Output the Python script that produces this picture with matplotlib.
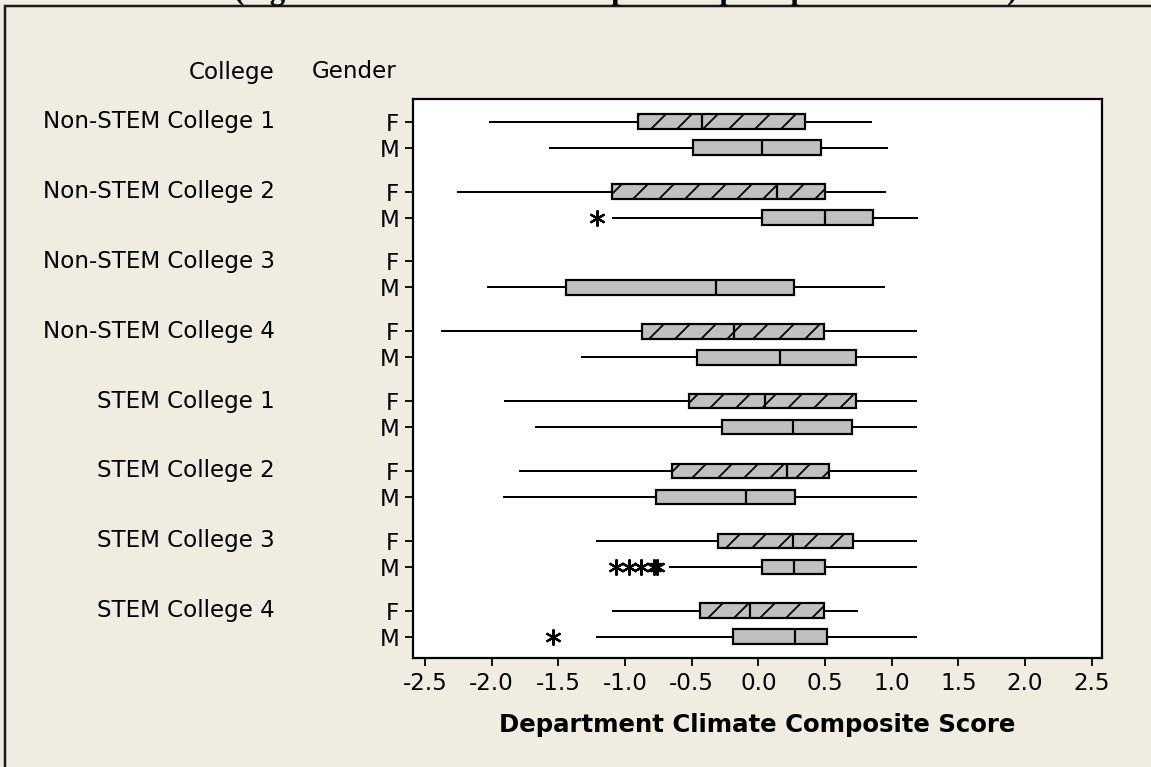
import numpy as np
import matplotlib
matplotlib.use("Agg")
import matplotlib.pyplot as plt
from matplotlib.patches import Rectangle
from matplotlib.transforms import blended_transform_factory

# data (box plot summaries)
colleges = ['Non-STEM College 1', 'Non-STEM College 2', 'Non-STEM College 3', 'Non-STEM College 4',
            'STEM College 1', 'STEM College 2', 'STEM College 3', 'STEM College 4']
genders = ['F', 'M']

# whisker low, Q1, median, Q3, whisker high  (None = no data)
f_whislo = [-2.01, -2.25, None, -2.37, -1.90, -1.79, -1.21, -1.09]
f_q1 = [-0.90, -1.10, None, -0.87, -0.52, -0.645, -0.30, -0.44]
f_med = [-0.42, 0.14, None, -0.18, 0.05, 0.215, 0.26, -0.06]
f_q3 = [0.35, 0.50, None, 0.49, 0.73, 0.53, 0.71, 0.49]
f_whishi = [0.845, 0.95, None, 1.18, 1.18, 1.18, 1.18, 0.74]
f_fliers = [[], [], [], [], [], [], [], []]

m_whislo = [-1.56, -1.09, -2.03, -1.32, -1.67, -1.91, -0.66, -1.21]
m_q1 = [-0.49, 0.03, -1.44, -0.46, -0.27, -0.765, 0.03, -0.19]
m_med = [0.03, 0.50, -0.32, 0.16, 0.26, -0.09, 0.27, 0.275]
m_q3 = [0.47, 0.86, 0.27, 0.73, 0.70, 0.275, 0.50, 0.515]
m_whishi = [0.965, 1.19, 0.94, 1.18, 1.18, 1.18, 1.18, 1.18]
m_fliers = [[], [-1.21], [], [], [], [], [-1.07, -0.97, -0.88, -0.78, -0.76], [-1.54]]

x_ticks = [-2.5, -2.0, -1.5, -1.0, -0.5, 0.0, 0.5, 1.0, 1.5, 2.0, 2.5]

DPI = 156
W, H = 1151, 767
BG = '#F0ECE2'


def pt(px):
    return px * 72.0 / DPI


plt.rcParams['axes.unicode_minus'] = False
plt.rcParams['font.family'] = ['DejaVu Sans']
plt.rcParams['hatch.linewidth'] = pt(1.8)
FS = pt(23)

fig = plt.figure(figsize=(W / DPI, H / DPI), dpi=DPI, facecolor=BG)
ax = fig.add_axes([413 / W, 1 - 658 / H, (1101.7 - 413) / W, (658 - 99.3) / H])
ax.set_facecolor('white')

GROUP_STEP = 2.687
stats, positions, hatched = [], [], []
tick_pos, tick_lab = [], []
all_f = zip(f_whislo, f_q1, f_med, f_q3, f_whishi, f_fliers)
all_m = zip(m_whislo, m_q1, m_med, m_q3, m_whishi, m_fliers)
for g, (fs, ms) in enumerate(zip(all_f, all_m)):
    for k, s in enumerate((fs, ms)):
        pos = g * GROUP_STEP + k
        tick_pos.append(pos)
        tick_lab.append(genders[k])
        if s[0] is None:
            continue
        stats.append(dict(whislo=s[0], q1=s[1], med=s[2], q3=s[3], whishi=s[4], fliers=s[5]))
        positions.append(pos)
        hatched.append(k == 0)

res = ax.bxp(stats, positions=positions, widths=0.56, orientation='horizontal',
             patch_artist=True, showcaps=False,
             boxprops=dict(facecolor='#C0C0C0', edgecolor='black', linewidth=pt(2.2)),
             medianprops=dict(color='black', linewidth=pt(2.2)),
             whiskerprops=dict(color='black', linewidth=pt(2)),
             flierprops=dict(marker=(6, 2, 0), markersize=pt(16), markeredgecolor='black',
                             markeredgewidth=pt(2.2), linestyle='none'))
for box, h in zip(res['boxes'], hatched):
    if h:
        box.set_hatch('//')

ax.set_xlim(-2.59, 2.575)
ax.set_ylim(7 * GROUP_STEP + 1 + 0.82, -0.862)
ax.set_xticks(x_ticks, ['%.1f' % v for v in x_ticks], fontsize=FS)
ax.set_yticks(tick_pos, tick_lab, fontsize=FS)
ax.tick_params(length=pt(8), width=pt(1.8), pad=pt(6), color='black')
for sp in ax.spines.values():
    sp.set_linewidth(pt(2.2))

trans = blended_transform_factory(fig.transFigure, ax.transData)
for g, name in enumerate(colleges):
    ax.text(275 / W, g * GROUP_STEP, name, transform=trans, ha='right', va='center',
            fontsize=FS, clip_on=False)

fig.text(275 / W, 1 - 72 / H, 'College', ha='right', va='center', fontsize=FS)
fig.text(397 / W, 1 - 72 / H, 'Gender', ha='right', va='center', fontsize=FS)
fig.text(757.5 / W, 1 - 725 / H, 'Department Climate Composite Score', ha='center', va='center',
         fontsize=pt(24.4), fontweight='bold')

# title sits above the frame and is cut off at the top edge, as in the reference
fig.text(626 / W, 1 + 0.5 / H, '(higher scores indicate more positive perceptions of climate)',
         ha='center', va='baseline', fontsize=pt(30.8), fontweight='bold',
         family=['Liberation Serif', 'DejaVu Serif'])

frame = Rectangle((4.5 / W, -0.1), 1.2, (H - 5.5) / H + 0.1, transform=fig.transFigure,
                  fill=False, edgecolor='#1a1a1a', linewidth=pt(2.5), clip_on=False)
fig.add_artist(frame)

fig.savefig('out.png', dpi=DPI, facecolor=BG)
